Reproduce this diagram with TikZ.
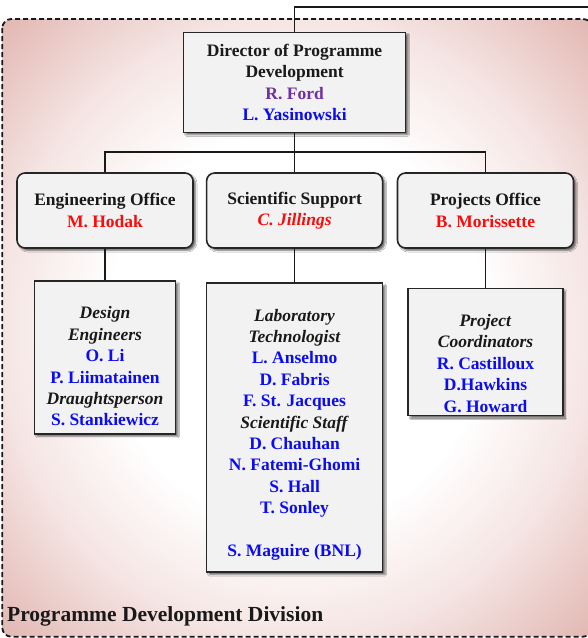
\documentclass[tikz,border=0pt]{standalone}
\usepackage{fontspec}
\setmainfont{Liberation Serif}
\usepackage{xcolor}
\usetikzlibrary{positioning,shadows.blur}

\definecolor{PinkEdge}{RGB}{226,182,177}
\definecolor{BoxFill}{RGB}{242,242,242}
\definecolor{NameBlue}{RGB}{12,12,240}
\definecolor{HeadRed}{RGB}{250,12,12}
\definecolor{DirPurple}{RGB}{112,48,160}
\pgfdeclareradialshading{PinkGlow}{\pgfpoint{0bp}{0bp}}{color(0bp)=(white); color(16bp)=(white); color(25bp)=(PinkEdge!35!white); color(35.5bp)=(PinkEdge); color(50bp)=(PinkEdge)}

\newcommand{\nm}[1]{\textcolor{NameBlue}{#1}}
\newcommand{\hd}[1]{\textcolor{HeadRed}{#1}}

\begin{document}
\begin{tikzpicture}[
	%Environment config
	x=1pt, y=-1pt,
	font=\fontsize{17.5}{21.4}\selectfont\bfseries,
	text=black!90,
	%Environment styles
	BoxCfg/.style={
		draw=black!85,
		line width=1.6pt,
		fill=BoxFill,
		blur shadow={shadow xshift=2.5pt, shadow yshift=-2.5pt, shadow blur radius=1.5pt, shadow opacity=55}
	},
	OfficeCfg/.style={BoxCfg, rounded corners=8pt, minimum width=176pt, minimum height=75pt, align=center},
	TeamCfg/.style={BoxCfg, anchor=north, inner sep=0pt},
	TeamTxt/.style={anchor=north, align=center, inner sep=0pt, yshift=-26.5pt},
	LinkCfg/.style={draw=black!90, line width=1.3pt}
	]
	\path[use as bounding box, clip] (0,0) rectangle (588,638);

	% division frame
	\path[draw=black!90, line width=1.8pt, dash pattern=on 5pt off 3pt,
		rounded corners=9pt, shade, shading=PinkGlow] (2.3,19) rectangle (592,636.7);

	\coordinate (TopEnd) at (600,7);
	\coordinate (Bus) at (294.6,152);

	\path
	(294.6,82.3) node[BoxCfg, minimum width=222pt, minimum height=100pt, align=center](Dir){Director of Programme\\Development\\\textcolor{DirPurple}{R. Ford}\\\nm{L. Yasinowski}}
	(105,210.5) node[OfficeCfg](Eng){Engineering Office\\\hd{M. Hodak}}
	(294.6,210.5) node[OfficeCfg](Sci){Scientific Support\\\hd{\textit{C. Jillings}}}
	(485.5,210.5) node[OfficeCfg](Proj){Projects Office\\\hd{B. Morissette}}
	(105,280) node[TeamCfg, minimum width=141pt, minimum height=153pt](DesignBox){}
	(294.6,282.3) node[TeamCfg, minimum width=176pt, minimum height=289pt](LabBox){}
	(485.5,287.7) node[TeamCfg, minimum width=154.5pt, minimum height=127pt](CoordBox){}
	(DesignBox.north) node[TeamTxt](DesignTxt){\textit{Design}\\\textit{Engineers}\\\nm{O. Li}\\\nm{P. Liimatainen}\\\textit{Draughtsperson}\\\nm{S. Stankiewicz}}
	(LabBox.north) node[TeamTxt](LabTxt){\textit{Laboratory}\\\textit{Technologist}\\\nm{L. Anselmo}\\\nm{D. Fabris}\\\nm{F. St. Jacques}\\\textit{Scientific Staff}\\\nm{D. Chauhan}\\\nm{N. Fatemi-Ghomi}\\\nm{S. Hall}\\\nm{T. Sonley}\\[21.4pt]\nm{S. Maguire (BNL)}}
	(CoordBox.north) node[TeamTxt](CoordTxt){\textit{Project}\\\textit{Coordinators}\\\nm{R. Castilloux}\\\nm{D.Hawkins}\\\nm{G. Howard}}
	(7,621.5) node[anchor=base west, inner sep=0pt, font=\fontsize{21.5}{24}\selectfont\bfseries](DivTitle){Programme Development Division};

	\draw[LinkCfg]
	(Dir.north) |- (TopEnd)
	(Dir.south) -- (Sci.north)
	(Eng.north) |- (Bus) -| (Proj.north)
	(Eng.south) -- (DesignBox.north)
	(Sci.south) -- (LabBox.north)
	(Proj.south) -- (CoordBox.north);
\end{tikzpicture}
\end{document}
